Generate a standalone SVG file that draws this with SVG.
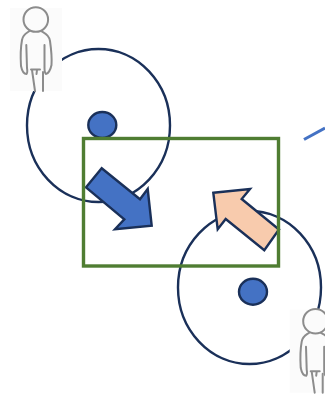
<svg xmlns="http://www.w3.org/2000/svg" width="325" height="397" viewBox="0 0 325 397">
<style>
.zone{fill:none;stroke:#1a3059;stroke-width:2.400}
.dot{fill:#4472c4;stroke:#1a3059;stroke-width:2.400}
.arrow{stroke:#1a3059;stroke-width:2.400;stroke-linejoin:miter}
.bg{fill:#fbfbfb}
.fig{fill:none;stroke:#8c8c8c;stroke-width:2;stroke-linecap:round;stroke-linejoin:round}
</style>
<defs>
<g id="person">
<rect class="bg" x="10" y="8" width="52" height="83"/>
<circle class="fig" cx="35.800" cy="19.500" r="12.300"/>
<path class="fig" d="M29.500 31 C27 33 23 34 22 40 C20.500 48 20.500 58 21 66 C22 71 24 74 26.500 74 C27.500 73 27.500 71 27 68 L26.300 45"/>
<path class="fig" d="M41 31 C44 33 49 34 50 41 C51 48 52 58 51.500 65 C50.500 70 48 74 46 74 C44.800 73 44.500 71 44.500 68 L44.500 45"/>
<path class="fig" d="M31 69.500 L40 69.500 M32 70 L35 91 M43 72 L43 91 M37 70 L36.500 74"/>
</g>
</defs>
<g id="zone-1"><ellipse class="zone" cx="98.500" cy="125.500" rx="71.500" ry="76.500"/></g>
<g id="zone-2"><ellipse class="zone" cx="249.500" cy="287.500" rx="71.500" ry="76.500"/></g>
<g id="person-1"><use href="#person"/></g>
<g id="person-2"><use href="#person" transform="translate(279.700 301.700)"/></g>
<g id="dot-1"><ellipse class="dot" cx="102.300" cy="125" rx="14" ry="13"/></g>
<g id="dot-2"><ellipse class="dot" cx="253" cy="291.700" rx="14" ry="13"/></g>
<g id="arrow-blue"><polygon class="arrow" fill="#4472c4" points="101.700,168.300 140,199.300 147.700,189 151.700,225.700 115,229.300 124.300,219.300 86,187.300"/></g>
<g id="arrow-peach"><polygon class="arrow" fill="#f8cbad" points="213.300,192.700 250,189 241.700,199 279,229.500 264.300,250.300 225.700,219 217.700,229.300"/></g>
<g id="area"><rect x="83.500" y="138.500" width="195" height="127.500" fill="none" stroke="#4f7d32" stroke-width="3.400"/></g>
<g id="connectors"><line x1="304" y1="139.500" x2="325" y2="128" stroke="#4472c4" stroke-width="3"/></g>
</svg>
